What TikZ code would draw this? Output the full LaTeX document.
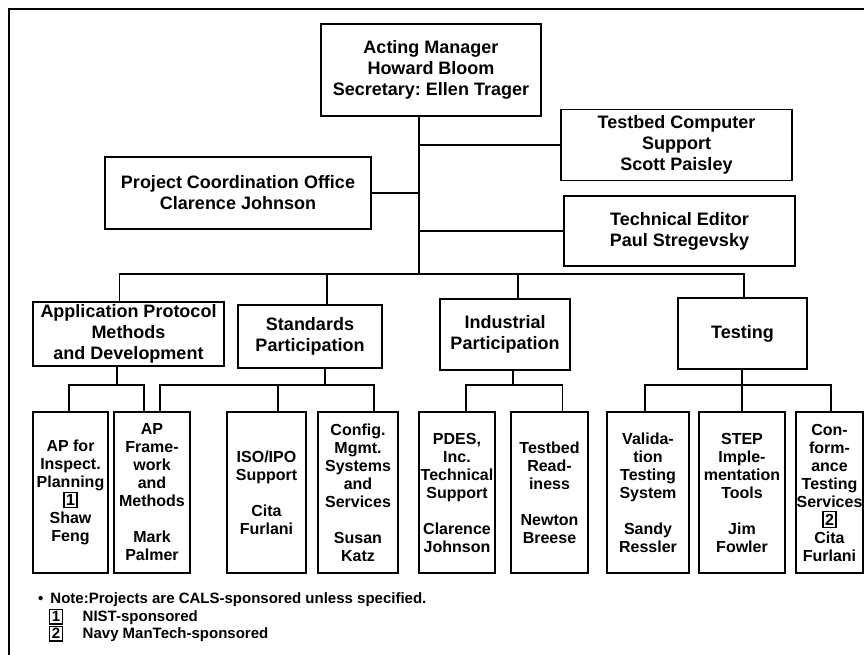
\documentclass[tikz,border=0pt]{standalone}
\usepackage{fontspec}
\setmainfont{Liberation Sans}
\usetikzlibrary{calc}
\frenchspacing

% small framed sponsor number
\newcommand{\spnr}[1]{{\setlength{\fboxsep}{1.5pt}\setlength{\fboxrule}{1.1pt}\fbox{#1}}}

\begin{document}
\begin{tikzpicture}[
    x=1pt, y=-1pt,
    box/.style={draw, line width=1.5pt, align=center, inner sep=0pt},
    head/.style={box, font=\bfseries\fontsize{18}{21}\selectfont},
    proj/.style={box, minimum width=#1, minimum height=161pt,
                 font=\bfseries\fontsize{16}{18}\selectfont},
    note/.style={anchor=west, inner sep=0pt, font=\bfseries\fontsize{15}{17}\selectfont},
    link/.style={line width=1.5pt}
]
\useasboundingbox (0,0) rectangle (864,655);

% frame
\draw[link] (864,9) -- (9,9) -- (9,655);

% top level
\node[head, minimum width=220pt, minimum height=92pt] (mgr) at (431,70)
    {Acting Manager\\Howard Bloom\\Secretary: Ellen Trager};
\node[head, minimum width=231pt, minimum height=71pt] (tcs) at (676.5,145)
    {Testbed Computer\\Support\\Scott Paisley};
\node[head, minimum width=266pt, minimum height=72pt] (pco) at (238,193)
    {Project Coordination Office\\Clarence Johnson};
\node[head, minimum width=231pt, minimum height=70pt] (ted) at (679.5,231)
    {Technical Editor\\Paul Stregevsky};

% groups
\node[head, minimum width=191pt, minimum height=64pt] (apm) at (128.5,334)
    {Application Protocol\\Methods\\and Development};
\node[head, minimum width=144pt, minimum height=63pt] (std) at (310,336.5)
    {Standards\\Participation};
\node[head, minimum width=130pt, minimum height=71pt] (ind) at (505,334.5)
    {Industrial\\Participation};
\node[head, minimum width=129pt, minimum height=71pt] (tst) at (742.5,333.5)
    {Testing};

% projects
\node[proj=75pt] (api) at (70.5,492.5)
    {AP for\\Inspect.\\Planning\\\spnr{1}\\Shaw\\Feng};
\node[proj=76pt] (apf) at (152,492.5)
    {AP\\Frame-\\work\\and\\Methods\\[18pt]Mark\\Palmer};
\node[proj=79pt] (iso) at (266.5,492.5)
    {ISO/IPO\\Support\\[18pt]Cita\\Furlani};
\node[proj=80pt] (cfg) at (358,492.5)
    {Config.\\Mgmt.\\Systems\\and\\Services\\[18pt]Susan\\Katz};
\node[proj=76pt] (pdes) at (457,492.5)
    {PDES,\\Inc.\\Technical\\Support\\[18pt]Clarence\\Johnson};
\node[proj=77pt] (tbr) at (549.5,492.5)
    {Testbed\\Read-\\iness\\[18pt]Newton\\Breese};
\node[proj=82pt] (val) at (648,492.5)
    {Valida-\\tion\\Testing\\System\\[18pt]Sandy\\Ressler};
\node[proj=86pt] (stp) at (742,492.5)
    {STEP\\Imple-\\mentation\\Tools\\[18pt]Jim\\Fowler};
\node[proj=67pt] (cnf) at (829.5,492.5)
    {Con-\\form-\\ance\\Testing\\Services\\\spnr{2}\\Cita\\Furlani};

% manager links
\coordinate (trunk) at (419,274);
\draw[link] (mgr.south -| trunk) -- (trunk);
\draw[link] (trunk |- tcs.west) -- (tcs.west);
\draw[link] (pco.east) -- (pco.east -| trunk);
\draw[link] (trunk |- ted.west) -- (ted.west);
\draw[link] ([xshift=-9pt]apm.north) |- (trunk) -| ([xshift=1.5pt]tst.north);
\draw[link] ([xshift=17pt]std.north) -- ([xshift=17pt]std.north |- trunk);
\draw[link] ([xshift=13pt]ind.north) -- ([xshift=13pt]ind.north |- trunk);

% group links
\coordinate (aphub) at (117,385);
\draw[link] (apm.south -| aphub) -- (aphub);
\draw[link] ([xshift=-1.5pt]api.north) |- (aphub) -| ([xshift=-8pt]apf.north);

\coordinate (sthub) at (325,385);
\draw[link] (std.south -| sthub) -- (sthub);
\draw[link] ([xshift=8pt]apf.north) |- (sthub) -| ([xshift=16pt]cfg.north);
\draw[link] ([xshift=11.5pt]iso.north) -- ([xshift=11.5pt]iso.north |- sthub);

\coordinate (inhub) at (513,385);
\draw[link] (ind.south -| inhub) -- (inhub);
\draw[link] ([xshift=9pt]pdes.north) |- (inhub) -| ([xshift=13pt]tbr.north);

\coordinate (tshub) at (742,385);
\draw[link] (tst.south -| tshub) -- (tshub);
\draw[link] ([xshift=-3pt]val.north) |- (tshub) -| ([xshift=1.5pt]cnf.north);
\draw[link] (stp.north) -- (stp.north |- tshub);

% notes
\node[note] (nt) at (38,600)
    {\textbullet\hspace{7pt}Note:Projects are CALS-sponsored unless specified.};
\node[note] (n1) at (49,617) {\spnr{1}\hspace{20pt}NIST-sponsored};
\node[note] (n2) at (49,634) {\spnr{2}\hspace{20pt}Navy ManTech-sponsored};

\end{tikzpicture}
\end{document}
